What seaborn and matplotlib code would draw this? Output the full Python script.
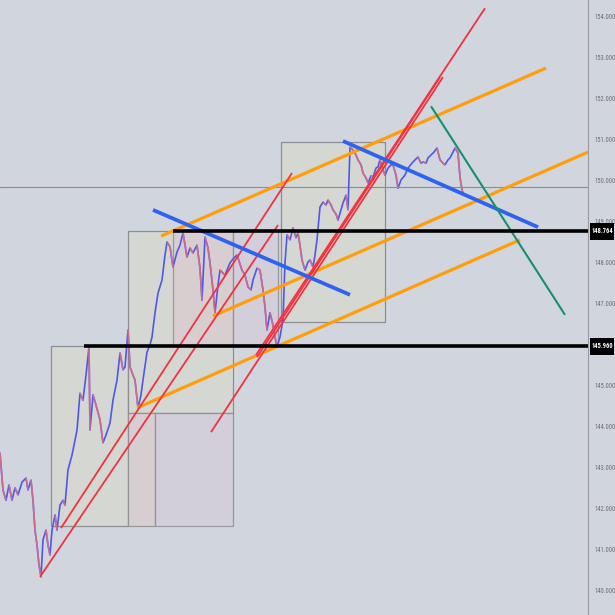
import numpy as np
import pandas as pd
import matplotlib
matplotlib.use("Agg")
import matplotlib.pyplot as plt
import matplotlib.transforms as mtransforms
from matplotlib import font_manager as fm
from matplotlib.collections import LineCollection
from matplotlib.patches import Rectangle
import seaborn as sns

# ---------------- data ----------------
bar_x = [0, 3, 6, 9, 12, 15, 18, 22, 26, 28, 31, 33, 35, 37, 39, 41, 43, 46, 48, 50,
         52, 55, 57, 60, 63, 65, 68, 72, 75, 77, 80, 83, 86, 89, 90, 93, 96, 100, 103, 106,
         110, 113, 117, 120, 123, 125, 128, 130, 133, 135, 138, 141, 143, 147, 150, 152, 155, 158, 162, 165,
         167, 170, 173, 177, 180, 183, 187, 190, 193, 197, 200, 202, 205, 208, 210, 213, 215, 218, 220, 225,
         230, 234, 237, 242, 245, 248, 251, 253, 257, 260, 263, 265, 267, 270, 273, 275, 277, 280, 283, 285,
         287, 290, 293, 296, 298, 300, 302, 305, 308, 310, 313, 315, 317, 320, 323, 326, 328, 331, 333, 336,
         338, 341, 343, 346, 348, 350, 353, 356, 358, 361, 363, 366, 368, 371, 373, 376, 378, 380, 383, 385,
         388, 391, 393, 396, 398, 401, 405, 408, 412, 415, 418, 421, 423, 426, 428, 431, 434, 437, 440, 443,
         445, 448, 450, 453, 455, 458, 460, 462, 463]
bar_price = [143.35, 142.45, 142.20, 142.57, 142.20, 142.50, 142.33, 142.64, 142.74, 142.45,
             142.69, 142.20, 141.47, 141.11, 140.62, 140.33, 141.23, 141.47, 141.11, 140.86,
             141.47, 141.84, 141.47, 142.08, 142.20, 142.08, 142.94, 143.30, 143.67, 143.91,
             144.81, 144.64, 145.25, 145.94, 143.91, 144.77, 144.52, 144.16, 143.60, 143.79,
             144.08, 144.64, 145.13, 145.79, 145.38, 145.45, 146.35, 145.45, 145.25, 145.13,
             144.45, 144.77, 145.13, 145.81, 145.99, 146.18, 146.77, 147.25, 147.57, 148.18,
             148.50, 148.38, 147.89, 148.25, 148.42, 148.72, 148.13, 148.35, 148.23, 148.42,
             147.86, 147.08, 148.62, 148.35, 147.99, 147.33, 146.77, 147.45, 147.81, 147.69,
             147.99, 148.11, 148.18, 147.81, 147.69, 147.40, 147.33, 147.57, 147.86, 147.81,
             147.33, 146.91, 146.35, 146.77, 146.47, 146.18, 145.94, 146.18, 146.60, 147.99,
             148.67, 148.55, 148.84, 148.60, 148.72, 148.42, 148.06, 147.81, 148.01, 148.06,
             147.89, 148.18, 148.55, 149.35, 149.47, 149.40, 149.52, 149.40, 149.28, 149.18,
             149.03, 149.28, 149.45, 149.64, 149.28, 150.81, 150.74, 150.62, 150.50, 150.38,
             150.18, 150.06, 149.94, 150.11, 150.08, 150.30, 150.33, 150.50, 150.25, 150.13,
             150.30, 150.38, 150.38, 150.13, 149.81, 150.01, 150.13, 150.30, 150.42, 150.50,
             150.57, 150.42, 150.45, 150.42, 150.55, 150.62, 150.69, 150.79, 150.50, 150.42,
             150.38, 150.50, 150.55, 150.69, 150.79, 150.67, 150.08, 149.77, 149.69]

# trend lines: (x0, x1, price0, price1)
red_x0 = [40, 61, 211, 257, 256]
red_x1 = [278, 292, 443, 440, 485]
red_p0 = [140.33, 141.52, 143.86, 145.69, 145.74]
red_p1 = [148.91, 150.18, 152.52, 152.52, 154.20]

orange_x0 = [161, 213, 137]
orange_x1 = [546, 588, 520]
orange_p0 = [148.64, 146.69, 144.45]
orange_p1 = [152.74, 150.69, 148.55]

blue_x0 = [153, 343]
blue_x1 = [350, 538]
blue_p0 = [149.28, 150.96]
blue_p1 = [147.21, 148.86]

green_x0 = [431]
green_x1 = [565]
green_p0 = [151.81]
green_p1 = [146.72]

level_prices = [148.764, 145.960]
level_labels = ["148.764", "145.960"]
level_start = [173, 84]
last_price = 149.84

# zone boxes
box_x0 = [51, 128, 128, 155, 173, 233, 281]
box_x1 = [128, 233, 155, 233, 233, 278, 385]
box_lo = [141.57, 144.33, 141.57, 141.57, 145.98, 145.98, 146.55]
box_hi = [145.96, 148.76, 144.33, 144.33, 148.76, 148.76, 150.94]
box_kind = ["gray", "gray", "rose", "lav", "rose", "lav", "gray"]

tick_values = [140, 141, 142, 143, 144, 145, 146, 147, 148, 149, 150, 151, 152, 153, 154]
hidden_ticks = [146]   # covered by the 145.960 price tag

# ---------------- font choice ----------------
def pick_font():
    for name in ["Liberation Sans Narrow", "DejaVu Sans Condensed", "Roboto Condensed",
                 "Open Sans Condensed", "Noto Sans Condensed"]:
        try:
            fm.findfont(fm.FontProperties(family=name), fallback_to_default=False)
            return name, "normal"
        except Exception:
            pass
    try:
        p = fm.findfont(fm.FontProperties(family="DejaVu Sans", stretch="condensed"))
        if "Condensed" in p:
            return "DejaVu Sans", "condensed"
    except Exception:
        pass
    return "Liberation Sans", "normal"

# ---------------- drawing ----------------
sns.set_theme(style="white")
font_name, font_stretch = pick_font()
plt.rcParams["font.family"] = [font_name, "DejaVu Sans"]

bg = "#d1d5dd"
fig = plt.figure(figsize=(6.15, 6.15), dpi=100)
fig.patch.set_facecolor(bg)
ax = fig.add_axes([0, 0, 588 / 615, 1])
ax.set_facecolor(bg)
ax.set_xlim(0, 588)
ax.set_ylim(139.40, 154.40)

fills = {"gray": ("#d5d7d3", 1.0), "rose": ("#d9cdd0", 0.85), "lav": ("#d3cdda", 0.85)}
for x0, x1, lo, hi, k in zip(box_x0, box_x1, box_lo, box_hi, box_kind):
    c, a = fills[k]
    ax.add_patch(Rectangle((x0, lo), x1 - x0, hi - lo, facecolor=c, alpha=a,
                           edgecolor="#8e8e92", lw=0.9, zorder=1))

ax.axhline(last_price, color="#8c8c92", lw=0.8, zorder=1.5)

df = pd.DataFrame({"x": bar_x, "price": bar_price})
sns.lineplot(data=df, x="x", y="price", ax=ax, color="#5058ea", lw=1.2, zorder=3,
             estimator=None, sort=False)
segs = []
for i in range(len(bar_x) - 1):
    if bar_price[i + 1] < bar_price[i]:
        segs.append([(bar_x[i], bar_price[i]), (bar_x[i + 1], bar_price[i + 1])])
ax.add_collection(LineCollection(segs, colors="#e0707e", lw=1.2, alpha=0.85, zorder=3.2))

def draw_lines(x0s, x1s, p0s, p1s, color, lw, z):
    for a, b, c, d in zip(x0s, x1s, p0s, p1s):
        ax.plot([a, b], [c, d], color=color, lw=lw, solid_capstyle="butt", zorder=z)

draw_lines(orange_x0, orange_x1, orange_p0, orange_p1, "#ff9e0a", 2.3, 4)
draw_lines(red_x0, red_x1, red_p0, red_p1, "#f2333f", 1.3, 5)
draw_lines(blue_x0, blue_x1, blue_p0, blue_p1, "#2e62ef", 2.7, 6)
draw_lines(green_x0, green_x1, green_p0, green_p1, "#14906c", 1.5, 6)

for p, x0 in zip(level_prices, level_start):
    ax.plot([x0, 588], [p, p], color="black", lw=2.6, zorder=7, solid_capstyle="butt")

for s in ["top", "left", "bottom"]:
    ax.spines[s].set_visible(False)
ax.spines["right"].set_color("#9a9aa2")
ax.spines["right"].set_linewidth(0.8)
ax.set_xticks([])
ax.yaxis.tick_right()
ax.set_yticks(tick_values)
ax.set_yticklabels(["" if v in hidden_ticks else f"{v:.3f}" for v in tick_values])
ax.set_xlabel("")
ax.set_ylabel("")

# fit label size so "154.000" is about 21 px wide
fig.canvas.draw()
probe = fig.text(0, 0, "154.000", fontsize=10, fontstretch=font_stretch)
w = probe.get_window_extent(fig.canvas.get_renderer()).width
probe.remove()
lab_size = 10 * 21.0 / w
ax.tick_params(axis="y", length=0, pad=5, labelsize=lab_size, labelcolor="#6e6e76")
for t in ax.get_yticklabels():
    t.set_fontstretch(font_stretch)

trans = mtransforms.blended_transform_factory(ax.transAxes, ax.transData)
tag_h = 17 / 41.0
for p, lab in zip(level_prices, level_labels):
    ax.add_patch(Rectangle((590 / 588, p - tag_h / 2), 24 / 588, tag_h, transform=trans,
                           facecolor="black", edgecolor="none", clip_on=False, zorder=19))
    ax.text(602 / 588, p, lab, transform=trans, ha="center", va="center", color="white",
            fontsize=lab_size, fontstretch=font_stretch, fontweight="bold", zorder=20,
            clip_on=False)

fig.savefig("out.png", dpi=100, facecolor=bg)
